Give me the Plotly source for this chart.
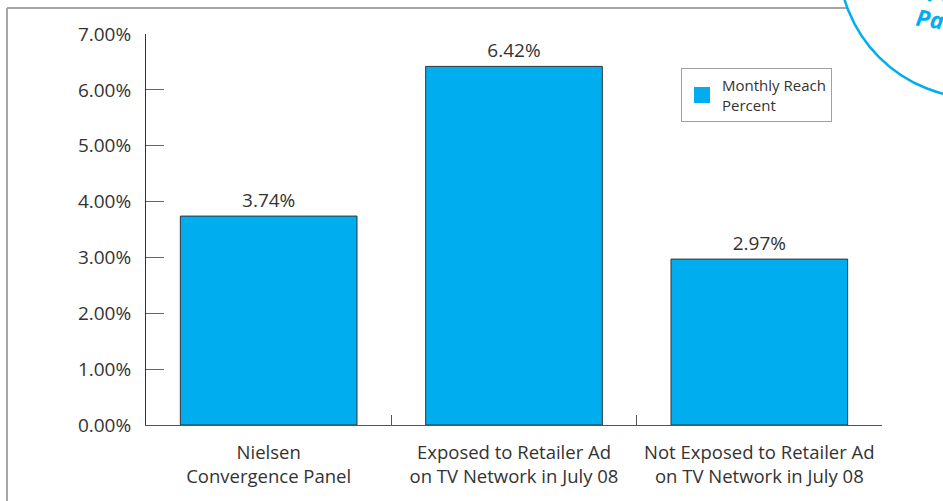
import plotly.graph_objects as go

categories = ["Nielsen<br>Convergence Panel",
              "Exposed to Retailer Ad<br>on TV Network in July 08",
              "Not Exposed to Retailer Ad<br>on TV Network in July 08"]
reach_pct = [3.74, 6.42, 2.97]
series_name = "Monthly Reach<br>Percent"
y_ticks = [0, 1, 2, 3, 4, 5, 6, 7]

W, H = 943, 501
L, R, T, B = 146, 61, 34, 76
PW, PH = W - L - R, H - T - B

def px(x):
    return (x - L) / PW

def py(y):
    return (H - B - y) / PH

BLUE = "#00AEEF"
FONT = "Open Sans"

fig = go.Figure()
fig.add_trace(go.Bar(
    x=categories, y=reach_pct, name=series_name,
    marker=dict(color=BLUE, line=dict(color="#333333", width=1)),
    texttemplate="%{y:.2f}%", textposition="outside",
    textfont=dict(size=19, color="#333333", family=FONT),
    cliponaxis=False, showlegend=False,
))
fig.add_trace(go.Scatter(
    x=[None], y=[None], mode="markers", name=series_name,
    marker=dict(symbol="square", size=24, color=BLUE),
    showlegend=True,
))

shapes = [
    dict(type="line", xref="paper", yref="paper",
         x0=px(7), x1=px(7), y0=py(8), y1=py(H + 5),
         line=dict(color="#a6a6a6", width=2)),
    dict(type="line", xref="paper", yref="paper",
         x0=px(7), x1=px(850), y0=py(8), y1=py(8),
         line=dict(color="#a6a6a6", width=2)),
    dict(type="circle", xref="paper", yref="paper", layer="above",
         x0=px(977.5 - 139), x1=px(977.5 + 139),
         y0=py(-41 + 139), y1=py(-41 - 139),
         fillcolor="white", line=dict(color=BLUE, width=2.5)),
]

annotations = [
    dict(xref="paper", yref="paper", x=px(912), y=py(43),
         xanchor="left", yanchor="bottom", text="<b><i>Panel</i></b>",
         showarrow=False, textangle=8,
         font=dict(size=23, color=BLUE, family=FONT)),
    dict(xref="paper", yref="paper", x=px(924), y=py(14),
         xanchor="left", yanchor="bottom", text="<b><i>Pc</i></b>",
         showarrow=False, textangle=8,
         font=dict(size=23, color=BLUE, family=FONT)),
]

fig.update_layout(
    width=W, height=H,
    margin=dict(l=L, r=R, t=T, b=B, pad=0),
    paper_bgcolor="white", plot_bgcolor="white",
    font=dict(family=FONT, size=18, color="#333333"),
    bargap=0.28,
    showlegend=True,
    legend=dict(x=px(681), y=py(68), xanchor="left", yanchor="top",
                bordercolor="#a0a0a0", borderwidth=1, bgcolor="white",
                font=dict(size=15, color="#333333", family=FONT),
                itemsizing="trace"),
    shapes=shapes, annotations=annotations,
    xaxis=dict(showline=True, linecolor="#555555", linewidth=1,
               ticks="inside", ticklen=10, tickcolor="#555555",
               tickson="boundaries", showgrid=False,
               ticklabelstandoff=11,
               tickfont=dict(size=18.5, color="#333333", family=FONT)),
    yaxis=dict(range=[0, 7], tickvals=y_ticks,
               ticktext=[f"{v:.2f}%" for v in y_ticks],
               showline=True, linecolor="#333333", linewidth=1,
               ticks="inside", ticklen=18, tickcolor="#666666",
               showgrid=False, zeroline=False,
               ticklabelstandoff=10,
               tickfont=dict(size=19, color="#333333", family=FONT)),
)

fig.write_html("out.html", config={"displayModeBar": False},
               post_script="document.body.style.margin='0px';")
